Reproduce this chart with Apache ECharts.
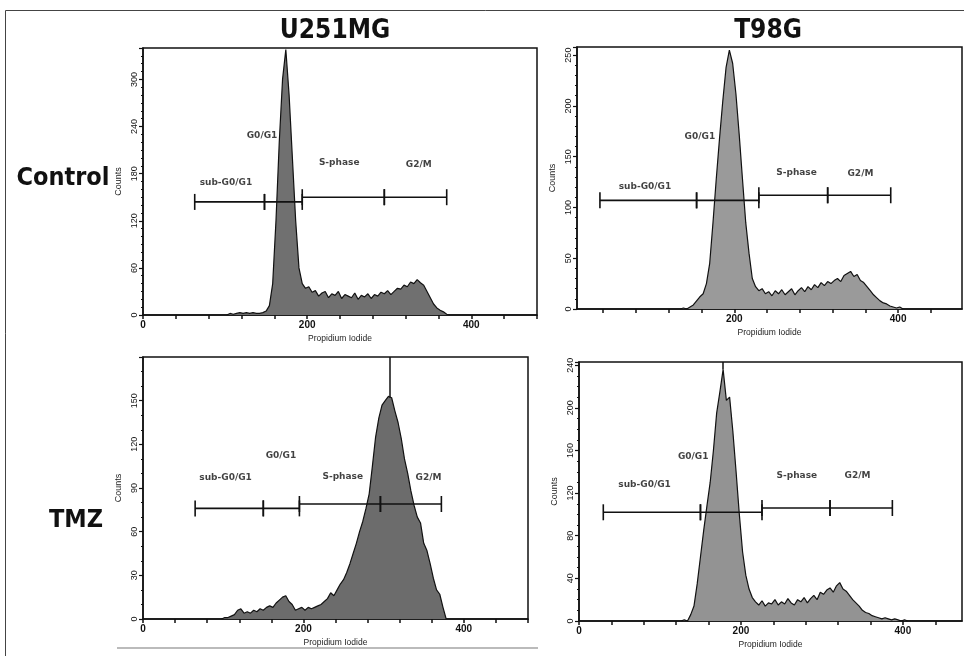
<!DOCTYPE html>
<html>
<head>
<meta charset="utf-8">
<title>U251MG / T98G cell cycle</title>
<script src="https://cdn.jsdelivr.net/npm/echarts@6/dist/echarts.min.js"></script>
<style>
html, body { margin: 0; padding: 0; background: #fff; }
#main { width: 964px; height: 656px; }
</style>
</head>
<body>
<div id="main"></div>
<script>
// histogram bin width in channels
var binW = 4;

// U251MG control, counts per bin from channel 100
var u251CtrlStart = 100;
var u251Ctrl = [0,2,1,2,3,2,3,2,3,2, 2,3,5,12,40,120,220,300,338,280,
  200,120,60,40,34,36,29,31,24,28, 30,22,27,25,30,21,26,24,22,28,
  20,25,23,27,21,26,24,29,27,31, 26,30,34,33,38,36,42,40,45,41,
  38,30,22,14,9,6,4,1,0];

// T98G control, from channel 132
var t98CtrlStart = 132;
var t98Ctrl = [0,1,0,2,4,8,12,15,25,45, 85,128,168,205,238,255,242,212,172,128,
  85,55,30,22,18,20,15,17,13,18, 15,19,14,17,20,14,18,21,17,22,
  19,24,21,26,23,27,25,28,30,27, 33,35,37,32,34,28,26,22,18,14,
  11,8,6,5,3,2,1,2,0];

// U251MG TMZ, from channel 96
var u251TmzStart = 96;
var u251Tmz = [0,1,1,2,3,6,7,4,5,4, 6,5,7,6,8,9,8,11,13,15,
  16,12,10,6,7,8,6,8,7,8, 9,10,12,14,18,16,20,24,27,32,
  38,45,52,60,67,76,86,105,125,138, 147,150,153,152,143,135,124,110,100,88,
  78,70,66,52,47,38,28,20,17,8, 0];

// T98G TMZ, from channel 124
var t98TmzStart = 124;
var t98Tmz = [0,1,0,6,14,35,60,85,108,130, 160,195,215,236,207,210,178,140,100,65,
  43,30,22,18,15,19,14,17,16,20, 15,18,16,21,17,15,20,18,22,17,
  21,24,20,27,25,29,31,27,33,36, 30,28,24,20,17,14,10,8,7,5,
  4,3,2,3,2,1,2,1,0,1, 0];

// off-scale single channels [channel, count where line starts]
var u251TmzSpike = [308, 152];
var t98TmzSpike = [178, 236];

// gate markers [from, to, level]
var gateNames = ['sub-G0/G1', 'G0/G1', 'S-phase', 'G2/M'];
var u251CtrlGates = [[63, 148, 144], [148, 194, 144], [194, 294, 150], [294, 370, 150]];
var t98CtrlGates = [[36, 154, 107], [154, 230, 107], [230, 314, 112], [314, 391, 112]];
var u251TmzGates = [[65, 150, 76], [150, 195, 76], [195, 296, 79], [296, 372, 79]];
var t98TmzGates = [[30, 150, 102], [150, 226, 102], [226, 310, 106], [310, 387, 106]];

// where each gate name is written
var u251CtrlText = [[101, 168], [145, 229], [239, 194], [336, 191]];
var t98CtrlText = [[91, 120], [158, 170], [276, 134], [354, 133]];
var u251TmzText = [[103, 97], [172, 112], [249, 98], [356, 97]];
var t98TmzText = [[81, 128], [141, 154], [269, 136], [344, 136]];

// axes
var xTicks = [0,40,80,120,160,200,240,280,320,360,400,440,480];
var xTicksT98 = [40,80,120,160,200,240,280,320,360,400,440];
var xLabels = [0, 200, 400];
var xLabelsT98 = [200, 400];
var u251CtrlY = [0, 60, 120, 180, 240, 300];
var t98CtrlY = [0, 50, 100, 150, 200, 250];
var u251TmzY = [0, 30, 60, 90, 120, 150];
var t98TmzY = [0, 40, 80, 120, 160, 200, 240];

var ink = '#111';
var tickFont = 'Liberation Sans';
var titleFont = '"DejaVu Sans Condensed", "Liberation Sans Narrow", sans-serif';

// each count is placed at the middle of its bin
function toBins(start, counts) {
  return counts.map(function (v, i) { return [start + i * binW + binW / 2, v]; });
}

function xAx(i, min, max, ticks, labels) {
  return {
    type: 'value', gridIndex: i, min: min, max: max,
    name: 'Propidium Iodide', nameLocation: 'middle', nameGap: 19,
    nameTextStyle: { fontSize: 8.5, color: '#222', fontFamily: tickFont },
    axisLine: { show: true, onZero: false, lineStyle: { color: ink, width: 1.5 } },
    axisTick: { show: true, customValues: ticks, length: 4, lineStyle: { color: ink, width: 1.5 } },
    axisLabel: { customValues: labels, fontSize: 10, margin: 5, color: ink, fontFamily: tickFont, fontWeight: 'bold' },
    splitLine: { show: false }
  };
}

function yAx(i, max, step, labels, minorN) {
  return {
    type: 'value', gridIndex: i, min: 0, max: max, interval: step,
    name: 'Counts', nameLocation: 'middle', nameGap: 20,
    nameTextStyle: { fontSize: 9, color: '#222', fontFamily: tickFont },
    axisLine: { show: true, lineStyle: { color: ink, width: 1.5 } },
    axisTick: { show: true, length: 4, lineStyle: { color: ink, width: 1.2 } },
    minorTick: { show: true, splitNumber: minorN, length: 2, lineStyle: { color: ink, width: 1 } },
    axisLabel: { customValues: labels, rotate: 90, fontSize: 9, margin: 4, color: ink, fontFamily: tickFont },
    splitLine: { show: false }, minorSplitLine: { show: false }
  };
}

function histSeries(i, start, counts, fill, spike, top) {
  var s = {
    type: 'line', xAxisIndex: i, yAxisIndex: i, symbol: 'none',
    data: toBins(start, counts), silent: true, z: 2,
    lineStyle: { color: ink, width: 1.2 },
    areaStyle: { color: fill, opacity: 1 }
  };
  if (spike) {
    s.markLine = {
      silent: true, symbol: ['none', 'none'], label: { show: false },
      lineStyle: { color: ink, width: 1.5, type: 'solid' },
      data: [[{ coord: [spike[0], spike[1]] }, { coord: [spike[0], top] }]]
    };
  }
  return s;
}

function gateSeries(i, gates) {
  return {
    type: 'custom', xAxisIndex: i, yAxisIndex: i, silent: true, z: 5,
    data: gates,
    renderItem: function (params, api) {
      var a = api.coord([api.value(0), api.value(2)]);
      var b = api.coord([api.value(1), api.value(2)]);
      var h = 8;
      var st = { stroke: ink, lineWidth: 1.6 };
      return {
        type: 'group', children: [
          { type: 'line', shape: { x1: a[0], y1: a[1], x2: b[0], y2: b[1] }, style: st },
          { type: 'line', shape: { x1: a[0], y1: a[1] - h, x2: a[0], y2: a[1] + h }, style: st },
          { type: 'line', shape: { x1: b[0], y1: b[1] - h, x2: b[0], y2: b[1] + h }, style: st }
        ]
      };
    }
  };
}

function textSeries(i, pos) {
  return {
    type: 'scatter', xAxisIndex: i, yAxisIndex: i, silent: true, z: 6,
    symbolSize: 1, itemStyle: { color: 'rgba(0,0,0,0)' },
    data: pos.map(function (p, k) { return { value: p, name: gateNames[k] }; }),
    label: {
      show: true, position: 'inside', formatter: '{b}', color: ink,
      fontFamily: 'DejaVu Sans', fontWeight: 'bold', fontSize: 9
    }
  };
}

var gridBox = { show: true, borderColor: ink, borderWidth: 1.5, backgroundColor: '#fff' };

var option = {
  animation: false,
  backgroundColor: '#fff',
  grid: [
    Object.assign({ left: 143, top: 48, width: 394, height: 267 }, gridBox),
    Object.assign({ left: 577, top: 47, width: 385, height: 262 }, gridBox),
    Object.assign({ left: 143, top: 357, width: 385, height: 262 }, gridBox),
    Object.assign({ left: 579, top: 362, width: 383, height: 259 }, gridBox)
  ],
  xAxis: [
    xAx(0, 0, 480, xTicks, xLabels),
    xAx(1, 8, 478, xTicksT98, xLabelsT98),
    xAx(2, 0, 480, xTicks, xLabels),
    xAx(3, 0, 473, xTicks, xLabels)
  ],
  yAxis: [
    yAx(0, 340, 60, u251CtrlY, 6),
    yAx(1, 258, 50, t98CtrlY, 5),
    yAx(2, 180, 30, u251TmzY, 3),
    yAx(3, 243, 40, t98TmzY, 4)
  ],
  series: [
    histSeries(0, u251CtrlStart, u251Ctrl, '#707070'),
    histSeries(1, t98CtrlStart, t98Ctrl, '#9a9a9a'),
    histSeries(2, u251TmzStart, u251Tmz, '#6c6c6c', u251TmzSpike, 180),
    histSeries(3, t98TmzStart, t98Tmz, '#939393', t98TmzSpike, 243),
    gateSeries(0, u251CtrlGates), gateSeries(1, t98CtrlGates),
    gateSeries(2, u251TmzGates), gateSeries(3, t98TmzGates),
    textSeries(0, u251CtrlText), textSeries(1, t98CtrlText),
    textSeries(2, u251TmzText), textSeries(3, t98TmzText)
  ],
  graphic: [
    { type: 'rect', shape: { x: 5.5, y: 10.5, width: 1000, height: 700 }, style: { fill: null, stroke: '#444', lineWidth: 1 }, silent: true },
    { type: 'line', shape: { x1: 117, y1: 648, x2: 538, y2: 648 }, style: { stroke: '#bbb', lineWidth: 2 }, silent: true },
    { type: 'text', x: 335, y: 31, style: { text: 'U251MG', fontSize: 26, fontWeight: 'bold', fontFamily: titleFont, fill: ink, align: 'center', verticalAlign: 'middle' } },
    { type: 'text', x: 768, y: 31, style: { text: 'T98G', fontSize: 26, fontWeight: 'bold', fontFamily: titleFont, fill: ink, align: 'center', verticalAlign: 'middle' } },
    { type: 'text', x: 63, y: 178, style: { text: 'Control', fontSize: 25, fontWeight: 'bold', fontFamily: titleFont, fill: ink, align: 'center', verticalAlign: 'middle' } },
    { type: 'text', x: 76, y: 520, style: { text: 'TMZ', fontSize: 25, fontWeight: 'bold', fontFamily: titleFont, fill: ink, align: 'center', verticalAlign: 'middle' } }
  ]
};

var chart = echarts.init(document.getElementById('main'), null, { renderer: 'canvas' });
chart.setOption(option);
</script>
</body>
</html>
